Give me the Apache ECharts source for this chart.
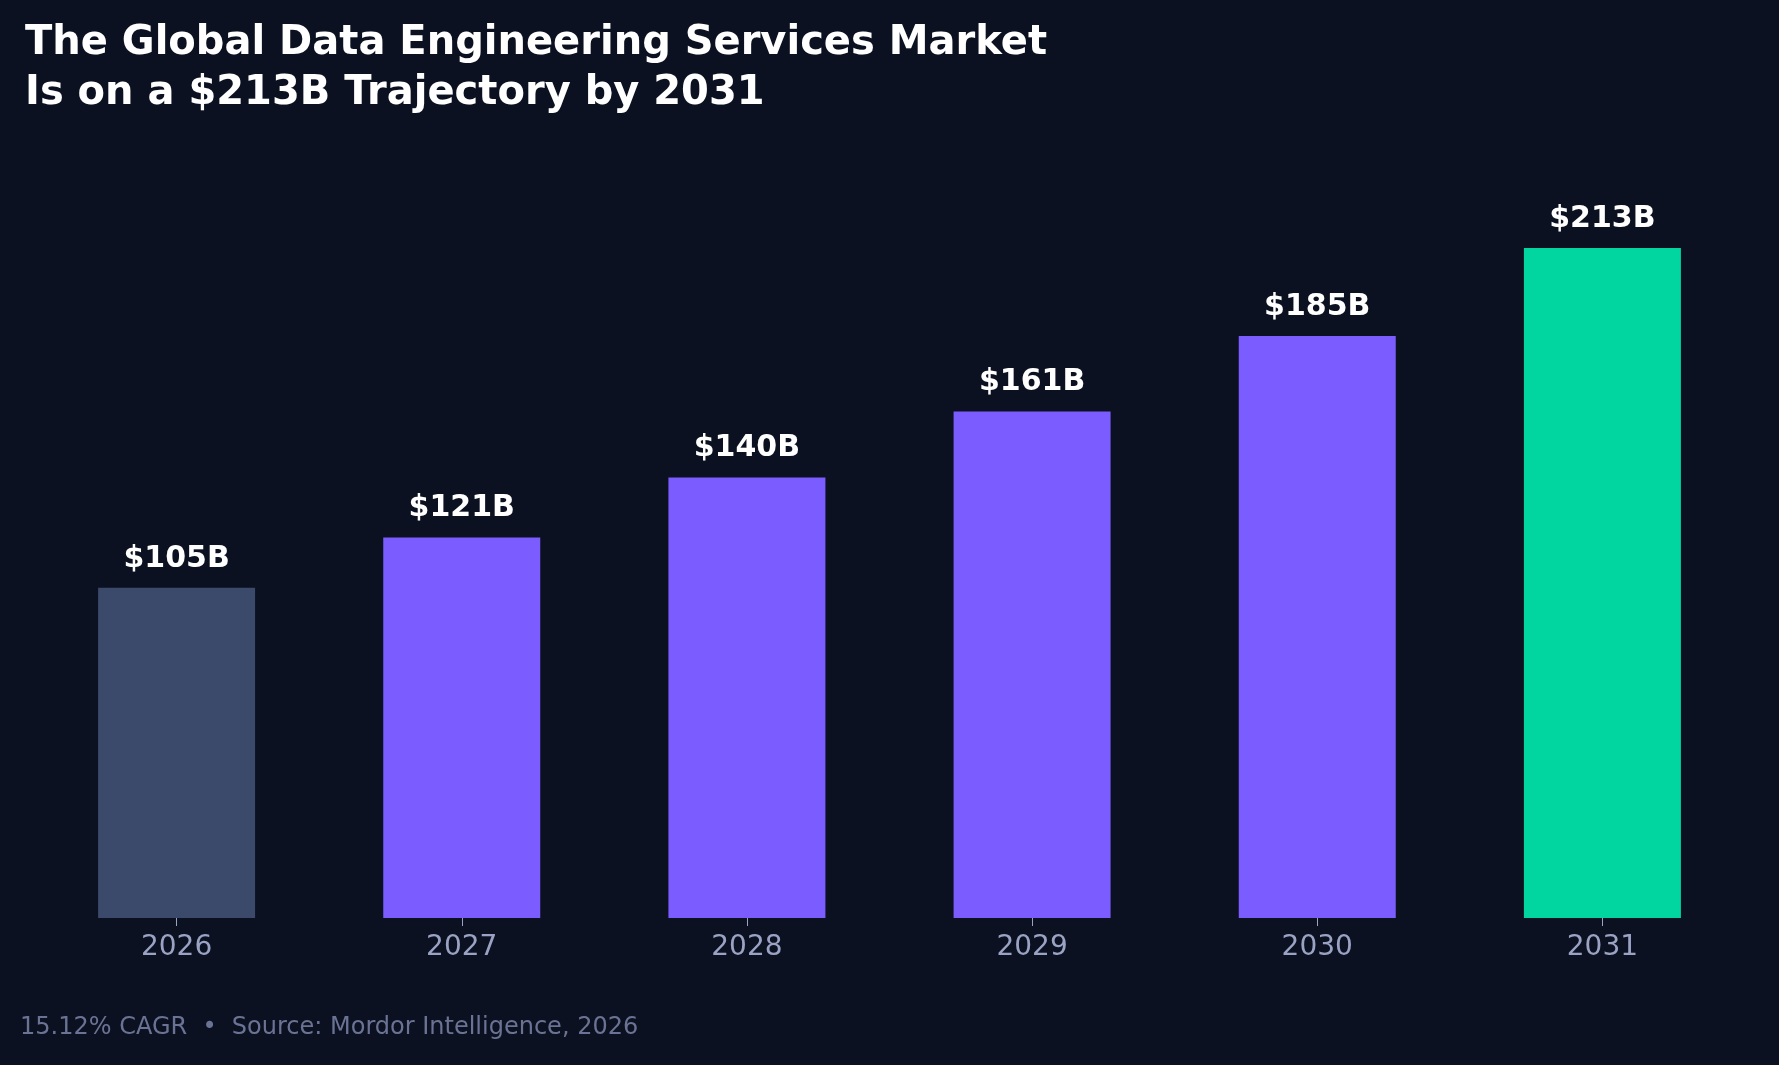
<!DOCTYPE html>
<html>
<head>
<meta charset="utf-8">
<script src="https://cdn.jsdelivr.net/npm/echarts@6/dist/echarts.min.js"></script>
<style>html,body{margin:0;padding:0;background:#0b1120;}#chart{width:1779px;height:1065px;}</style>
</head>
<body>
<div id="chart"></div>
<script>
// market size by year, USD billions
var years = ['2026', '2027', '2028', '2029', '2030', '2031'];
var values = [105, 121, 140, 161, 185, 213];
var barColors = ['#3b4a6b', '#7b5cff', '#7b5cff', '#7b5cff', '#7b5cff', '#02d6a0'];

var chart = echarts.init(document.getElementById('chart'));
var font = 'DejaVu Sans';

chart.setOption({
	backgroundColor: '#0b1120',
	animation: false,
	title: {
		text: 'The Global Data Engineering Services Market\nIs on a $213B Trajectory by 2031',
		left: 20,
		top: 14,
		textStyle: { color: '#ffffff', fontFamily: font, fontWeight: 'bold', fontSize: 40, lineHeight: 50 }
	},
	graphic: [{
		type: 'text',
		left: 20,
		top: 1016,
		style: { text: '15.12% CAGR  •  Source: Mordor Intelligence, 2026', fill: '#6b7394', fontFamily: font, fontSize: 24 }
	}],
	grid: { left: 34, right: 34, top: 248, bottom: 147, containLabel: false },
	xAxis: {
		type: 'category',
		data: years,
		axisLine: { show: false },
		axisTick: { show: true, alignWithLabel: true, length: 8, lineStyle: { color: '#9aa3c4' } },
		axisLabel: { color: '#9aa3c4', fontFamily: font, fontSize: 28, margin: 16 }
	},
	yAxis: { type: 'value', min: 0, max: 213, show: false, splitLine: { show: false } },
	series: [{
		type: 'bar',
		barWidth: 157,
		data: values.map(function(v, i){
			return { value: v, itemStyle: { color: barColors[i] } };
		}),
		label: {
			show: true,
			position: 'top',
			distance: 14,
			formatter: function(p){ return '$' + p.value + 'B'; },
			color: '#ffffff',
			fontFamily: font,
			fontWeight: 'bold',
			fontSize: 30
		}
	}]
});
</script>
</body>
</html>
